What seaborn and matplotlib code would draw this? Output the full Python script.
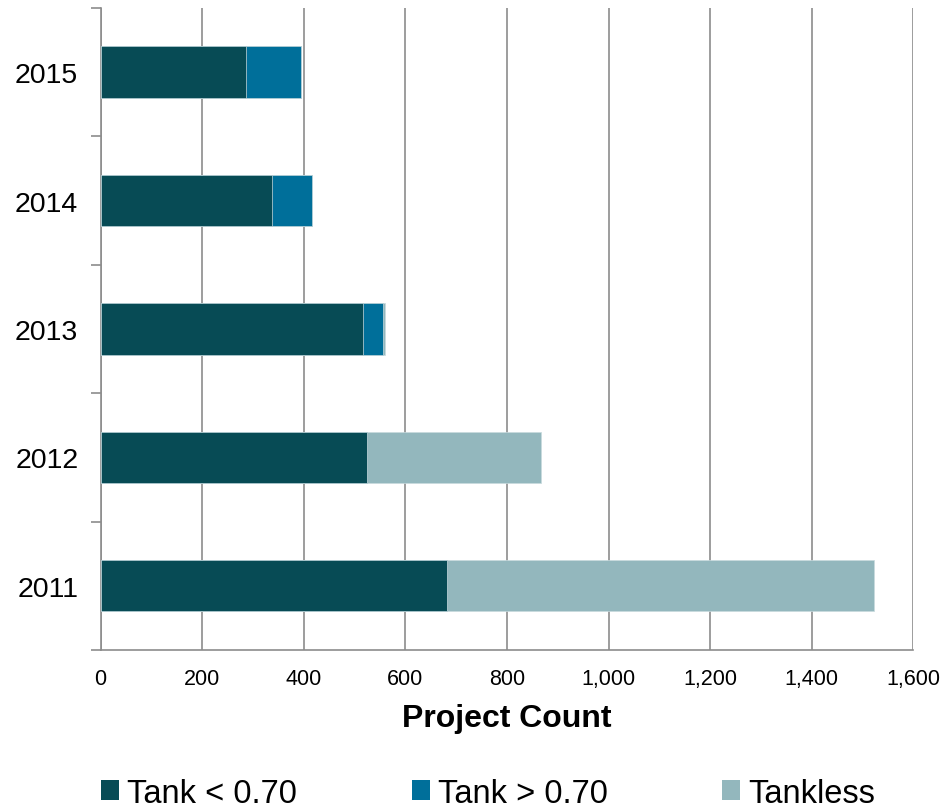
import matplotlib
matplotlib.use("Agg")
import matplotlib.pyplot as plt
from matplotlib import font_manager as fm
from matplotlib.patches import Patch
from matplotlib.ticker import FuncFormatter, FixedLocator
import seaborn as sns
import pandas as pd

# Project counts by year and water-heater type
years = ["2015", "2014", "2013", "2012", "2011"]
tank_low = [287, 338, 517, 525, 683]      # Tank < 0.70
tank_high = [107, 79, 40, 0, 0]           # Tank > 0.70
tankless = [0, 0, 3, 343, 840]            # Tankless

series_names = ["Tank < 0.70", "Tank > 0.70", "Tankless"]
colors = ["#074b55", "#006f9a", "#93b7bd"]
x_ticks = [0, 200, 400, 600, 800, 1000, 1200, 1400, 1600]

sns.set_theme(style="white")
installed = {f.name for f in fm.fontManager.ttflist}
narrow = "Liberation Sans Narrow" if "Liberation Sans Narrow" in installed else "Liberation Sans"
plt.rcParams["font.family"] = ["Liberation Sans", "DejaVu Sans"]
plt.rcParams["text.color"] = "black"

df = pd.DataFrame({
    "year": years,
    "low": tank_low,
    "high": tank_high,
    "tankless": tankless,
})
df["cum_high"] = df["low"] + df["high"]
df["cum_all"] = df["cum_high"] + df["tankless"]

fig = plt.figure(figsize=(9.44, 8.12), dpi=100)
ax = fig.add_axes([0.1065, 0.1983, 0.861, 0.7907])

# Stacked bars: draw cumulative totals back to front
for col, color in zip(["cum_all", "cum_high", "low"], colors[::-1]):
    sns.barplot(data=df, y="year", x=col, order=years, orient="h",
                color=color, width=0.4, saturation=1, ax=ax, zorder=3,
                edgecolor="#c8dade", linewidth=0.5)

grid_col = "#8c8c8c"
ax.set_xlim(0, 1600)
ax.set_ylim(4.5, -0.5)
ax.xaxis.set_major_locator(FixedLocator(x_ticks))
ax.xaxis.set_major_formatter(FuncFormatter(lambda v, p: f"{int(v):,}"))
ax.grid(axis="x", color=grid_col, linewidth=1.2, zorder=0)
ax.grid(axis="y", visible=False)
ax.set_axisbelow(True)

for s in ["top", "right"]:
    ax.spines[s].set_visible(False)
for s in ["left", "bottom"]:
    ax.spines[s].set_color(grid_col)
    ax.spines[s].set_linewidth(1.2)

ax.tick_params(axis="x", direction="out", length=5, width=1.2, color=grid_col,
               pad=8, labelsize=15.5, labelcolor="black")
for lab in ax.get_xticklabels():
    lab.set_fontfamily([narrow, "DejaVu Sans"])

ax.yaxis.set_minor_locator(FixedLocator([-0.5, 0.5, 1.5, 2.5, 3.5, 4.5]))
ax.tick_params(axis="y", which="major", length=0, pad=16, labelsize=20.5,
               labelcolor="black")
ax.tick_params(axis="y", which="minor", direction="out", length=7, width=1.2,
               color=grid_col, left=True)

ax.set_ylabel("")
ax.set_xlabel("Project Count", fontsize=23, fontweight="bold",
              fontfamily=[narrow, "DejaVu Sans"], labelpad=10, color="black")

handles = [Patch(facecolor=c, edgecolor="none") for c in colors]
fig.legend(handles, series_names, loc="center", bbox_to_anchor=(0.517, 0.022),
           ncol=3, frameon=False, handlelength=0.55, handleheight=0.55,
           handletextpad=0.25, columnspacing=3.5, labelcolor="black",
           prop={"family": [narrow, "DejaVu Sans"], "size": 23.5})

fig.savefig("out.png", dpi=100, facecolor="white")
